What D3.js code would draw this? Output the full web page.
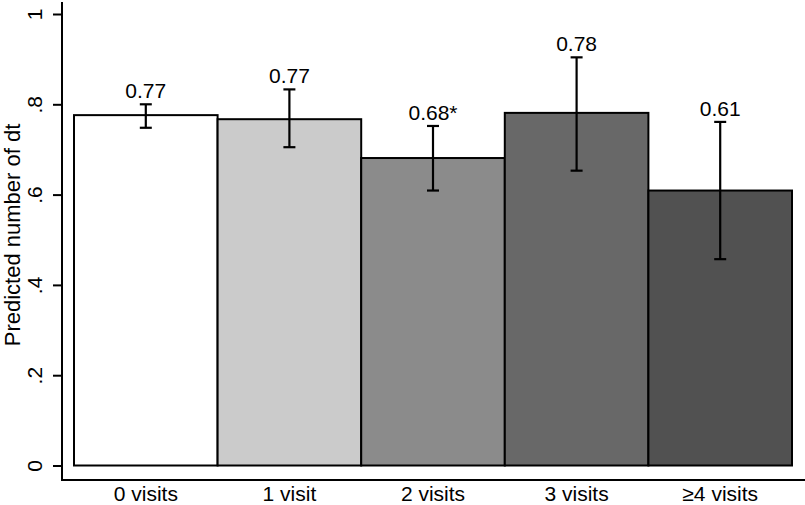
<!DOCTYPE html>
<html>
<head>
<meta charset="utf-8">
<script src="https://cdn.jsdelivr.net/npm/d3@7"></script>
<style>
  body { margin: 0; background: #fff; }
  svg { display: block; }
  text { font-family: "Liberation Sans", Arial, Helvetica, sans-serif; fill: #000; }
</style>
</head>
<body>
<svg id="chart" width="805" height="505"></svg>
<script>
const categories = ["0 visits", "1 visit", "2 visits", "3 visits", "\u22654 visits"];
const values = [0.776, 0.767, 0.681, 0.781, 0.609];
const ciLow = [0.748, 0.705, 0.609, 0.653, 0.457];
const ciHigh = [0.800, 0.833, 0.752, 0.904, 0.761];
const valueLabels = ["0.77", "0.77", "0.68*", "0.78", "0.61"];
const barColors = ["#ffffff", "#cbcbcb", "#8b8b8b", "#686868", "#515151"];
const yTicks = [0, 0.2, 0.4, 0.6, 0.8, 1];
const yTickLabels = ["0", ".2", ".4", ".6", ".8", "1"];
const yTitle = "Predicted number of dt";

const svg = d3.select("#chart");
const x = d3.scaleBand().domain(categories).range([74, 792]).padding(0);
const y = d3.scaleLinear().domain([0, 1]).range([465.5, 14]);

const axisX = 62, axisY = 480;

// bars
svg.append("g").selectAll("rect")
  .data(categories)
  .join("rect")
  .attr("x", d => x(d))
  .attr("width", x.bandwidth())
  .attr("y", (d, i) => y(values[i]))
  .attr("height", (d, i) => y(0) - y(values[i]))
  .attr("fill", (d, i) => barColors[i])
  .attr("stroke", "#000")
  .attr("stroke-width", 2);

// error bars
const eg = svg.append("g").attr("stroke", "#000").attr("stroke-width", 2.2);
categories.forEach((c, i) => {
  const cx = x(c) + x.bandwidth() / 2;
  eg.append("line").attr("x1", cx).attr("x2", cx).attr("y1", y(ciLow[i])).attr("y2", y(ciHigh[i]));
  eg.append("line").attr("x1", cx - 6).attr("x2", cx + 6).attr("y1", y(ciLow[i])).attr("y2", y(ciLow[i]));
  eg.append("line").attr("x1", cx - 6).attr("x2", cx + 6).attr("y1", y(ciHigh[i])).attr("y2", y(ciHigh[i]));
});

// value labels
svg.append("g").selectAll("text")
  .data(categories)
  .join("text")
  .attr("x", d => x(d) + x.bandwidth() / 2)
  .attr("y", (d, i) => y(ciHigh[i]) - 6)
  .attr("text-anchor", "middle")
  .attr("font-size", 21)
  .text((d, i) => valueLabels[i]);

// y axis
const yAxis = d3.axisLeft(y).tickValues(yTicks)
  .tickFormat((d, i) => yTickLabels[i]).tickSize(9).tickPadding(0);
const yg = svg.append("g").attr("transform", `translate(${axisX},0)`).call(yAxis);
yg.select(".domain").remove();
yg.selectAll(".tick line").attr("stroke", "#000").attr("stroke-width", 2);
yg.selectAll(".tick text")
  .attr("font-size", 21)
  .attr("font-family", "Liberation Sans, Arial, sans-serif")
  .attr("fill", "#000")
  .attr("text-anchor", "middle")
  .attr("dy", null)
  .attr("x", null)
  .attr("transform", "translate(-20,0) rotate(-90)");
svg.append("line").attr("x1", axisX).attr("x2", axisX).attr("y1", 2).attr("y2", axisY + 1)
  .attr("stroke", "#000").attr("stroke-width", 2);

// x axis
const xAxis = d3.axisBottom(x).tickSize(0).tickPadding(0);
const xg = svg.append("g").attr("transform", `translate(0,${axisY})`).call(xAxis);
xg.select(".domain").remove();
xg.selectAll(".tick text")
  .attr("font-size", 21)
  .attr("font-family", "Liberation Sans, Arial, sans-serif")
  .attr("fill", "#000")
  .attr("dy", null)
  .attr("y", 21);
svg.append("line").attr("x1", axisX - 1).attr("x2", 805).attr("y1", axisY).attr("y2", axisY)
  .attr("stroke", "#000").attr("stroke-width", 2);

// y title
svg.append("text")
  .attr("transform", `translate(20,235) rotate(-90)`)
  .attr("text-anchor", "middle")
  .attr("font-size", 22)
  .text(yTitle);
</script>
</body>
</html>
